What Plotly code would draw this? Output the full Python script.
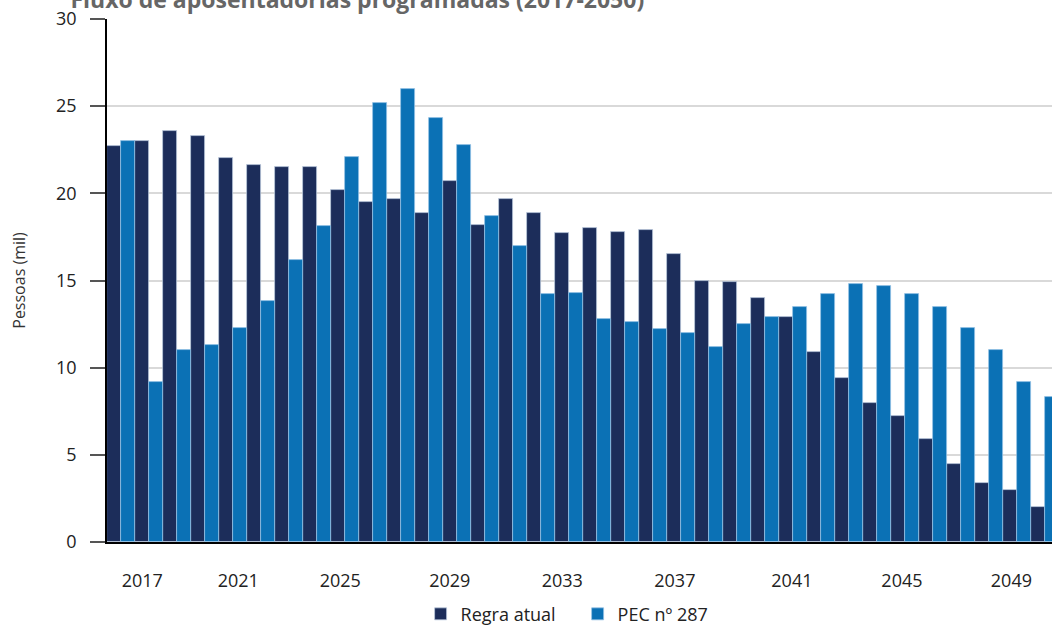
"""
Fluxo de aposentadorias programadas (2017-2050)
Regra atual x PEC nº 287 - barras agrupadas
"""

import plotly.graph_objects as go

# dados (mil pessoas)
anos = list(range(2017, 2051))

regra_atual = [22.7, 23.0, 23.6, 23.3, 22.0, 21.6, 21.5, 21.5, 20.2, 19.5,
               19.7, 18.9, 20.7, 18.2, 19.7, 18.9, 17.7, 18.0, 17.8, 17.9,
               16.5, 15.0, 14.9, 14.0, 12.9, 10.9, 9.4, 8.0, 7.2, 5.9,
               4.5, 3.4, 3.0, 2.0]

pec_287 = [23.0, 9.2, 11.0, 11.3, 12.3, 13.8, 16.2, 18.1, 22.1, 25.2,
           26.0, 24.3, 22.8, 18.7, 17.0, 14.2, 14.3, 12.8, 12.6, 12.2,
           12.0, 11.2, 12.5, 12.9, 13.5, 14.2, 14.8, 14.7, 14.2, 13.5,
           12.3, 11.0, 9.2, 8.3]

rotulos_x = ['2017', '2021', '2025', '2029', '2033', '2037', '2041', '2045', '2049']

# posicoes dos rotulos e das marcas do eixo x (em unidades de ano)
POS_ROTULOS = [2017.76, 2021.19, 2024.83, 2028.74, 2032.76, 2036.78, 2040.96, 2044.89, 2048.80]
POS_MARCAS = [2016.51, 2019.38, 2023.08, 2026.73, 2030.87, 2034.83, 2038.90, 2043.01, 2047.01]
FAIXA_X = [2016.5, 2050.25]

COR_ESCURA = '#1c2d5a'
COR_AZUL = '#0b71b5'
FONTE = 'Open Sans'

fig = go.Figure()

fig.add_trace(go.Bar(
    x=anos, y=regra_atual, name='Regra atual',
    marker=dict(color=COR_ESCURA, line=dict(color='rgba(190,205,225,0.9)', width=0.8))
))
fig.add_trace(go.Bar(
    x=anos, y=pec_287, name='PEC nº 287',
    marker=dict(color=COR_AZUL, line=dict(color='rgba(150,195,230,0.9)', width=0.8))
))

fig.update_layout(
    width=1052, height=625,
    margin=dict(l=107, r=0, t=19, b=83, autoexpand=False),
    paper_bgcolor='white', plot_bgcolor='white',
    barmode='group', bargap=0, bargroupgap=0,
    font=dict(family=FONTE, size=18, color='#222'),
    title=dict(
        text='<b>Fluxo de aposentadorias programadas (2017-2050)</b>',
        font=dict(family=FONTE, size=23, color='#666'),
        xref='container', x=0.067, xanchor='left',
        yref='container', y=1.0, yanchor='middle'
    ),
    xaxis=dict(
        range=FAIXA_X, tickmode='array', tickvals=POS_ROTULOS, ticktext=rotulos_x,
        ticks='', ticklabelstandoff=22, showgrid=False, zeroline=False,
        showline=True, linecolor='black', linewidth=1.5, automargin=False,
        tickfont=dict(size=18, color='#222')
    ),
    xaxis2=dict(
        range=FAIXA_X, overlaying='x', anchor='y', side='bottom',
        tickmode='array', tickvals=POS_MARCAS, showticklabels=False,
        ticks='outside', ticklen=14, tickwidth=1.5, tickcolor='#555',
        showgrid=False, zeroline=False, showline=False, automargin=False
    ),
    yaxis=dict(
        range=[0, 30], tickvals=[0, 5, 10, 15, 20, 25, 30],
        ticks='outside', ticklen=15, tickwidth=1.5, tickcolor='#555',
        ticklabelstandoff=10, automargin=False,
        showgrid=True, gridcolor='#d9d9d9', gridwidth=1.5,
        zeroline=False, showline=True, linecolor='black', linewidth=1.5,
        title=dict(text='Pessoas (mil)', font=dict(size=16, color='#333'), standoff=26),
        tickfont=dict(size=18, color='#222')
    ),
    legend=dict(
        orientation='h', x=0.498, xanchor='center', y=-0.138, yanchor='middle',
        font=dict(size=18, color='#222'), traceorder='normal', itemwidth=30,
        entrywidth=112, entrywidthmode='pixels'
    )
)

# sem margem do body para a figura ocupar a janela inteira
fig.write_html(
    "out.html",
    config={'displayModeBar': False},
    post_script="document.body.style.margin='0px';document.body.style.overflow='hidden';"
)
